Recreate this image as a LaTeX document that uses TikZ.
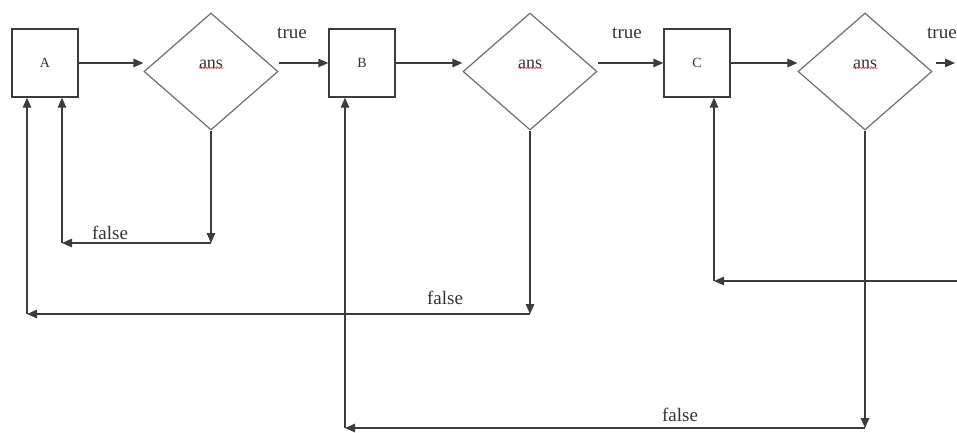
\documentclass[tikz,border=0pt]{standalone}
\usepackage{fontspec}
\setmainfont{Liberation Serif}
\usetikzlibrary{shapes.geometric,arrows.meta,decorations.pathmorphing}
\definecolor{linegray}{HTML}{3C3C3C}
\definecolor{shapegray}{HTML}{6E6E6E}
\definecolor{txt}{HTML}{333333}
\definecolor{spell}{HTML}{E05050}
\tikzset{
  stepbox/.style={draw=linegray,line width=1.3pt,minimum width=66pt,minimum height=68pt,
    inner sep=0pt,font=\fontsize{14}{14}\selectfont,text=txt},
  decide/.style={draw=shapegray,line width=1.2pt,diamond,minimum width=134pt,minimum height=117pt,
    inner sep=0pt,font=\fontsize{18}{18}\selectfont,text=txt},
  arr/.style={draw=linegray,line width=1.3pt,-{Triangle[length=10pt,width=8.5pt]}},
  lbl/.style={font=\fontsize{19}{19}\selectfont,text=txt,inner sep=0pt},
  squiggle/.style={draw=spell,line width=0.6pt,decorate,
    decoration={snake,amplitude=0.6pt,segment length=3pt}}
}
\begin{document}
\begin{tikzpicture}[x=1pt,y=-1pt]
\useasboundingbox (0,0) rectangle (957,432);

% process boxes
\node[stepbox] (A) at (45,63) {A};
\node[stepbox] (B) at (362,63) {B};
\node[stepbox] (C) at (697,63) {C};

% decisions
\node[decide] (d1) at (211,71.5) {};
\node[decide] (d2) at (530,71.5) {};
\node[decide] (d3) at (865,71.5) {};
\foreach \d in {d1,d2,d3}{
  \node[lbl,font=\fontsize{18}{18}\selectfont] (\d t) at ([yshift=7pt]\d.center) {ans};
  \draw[squiggle] ([yshift=1pt]\d t.south west) -- ([yshift=1pt]\d t.south east);
}

% forward flow
\draw[arr] (A.east) -- (A.east -| d1.west);
\draw[arr] (B.east) -- (B.east -| d2.west);
\draw[arr] (C.east) -- (C.east -| d3.west);
\draw[arr] (d1.east |- B.west) -- (B.west);
\draw[arr] (d2.east |- C.west) -- (C.west);
\coordinate (out) at (955,63);
\draw[arr] (d3.east |- out) ++(3,0) -- (out);
\node[lbl] (t1) at (292,33) {true};
\node[lbl] (t2) at (627,33) {true};
\node[lbl,anchor=west] (t3) at (927,33) {true};

% false branch of the first decision
\coordinate (k1) at (211,243);
\coordinate (k1l) at (62,243);
\draw[arr] (d1.south) -- (k1);
\draw[arr] (k1) -- (k1l);
\draw[arr] (k1l) -- (A.south -| k1l);
\node[lbl] (f1) at (110,233) {false};

% false branch of the second decision
\coordinate (k2) at (530,314);
\coordinate (k2l) at (27,314);
\draw[arr] (d2.south) -- (k2);
\draw[arr] (k2) -- (k2l);
\draw[arr] (k2l) -- (A.south -| k2l);
\node[lbl] (f2) at (445,298) {false};

% false branch of the third decision
\coordinate (k3) at (865,428);
\coordinate (k3l) at (345,428);
\draw[arr] (d3.south) -- (k3);
\draw[arr] (k3) -- (k3l);
\draw[arr] (k3l) -- (B.south -| k3l);
\node[lbl] (f3) at (680,415) {false};

% return into C from the right
\coordinate (kr) at (957,281);
\coordinate (krl) at (714,281);
\draw[arr] (kr) -- (krl);
\draw[arr] (krl) -- (C.south -| krl);
\end{tikzpicture}
\end{document}
